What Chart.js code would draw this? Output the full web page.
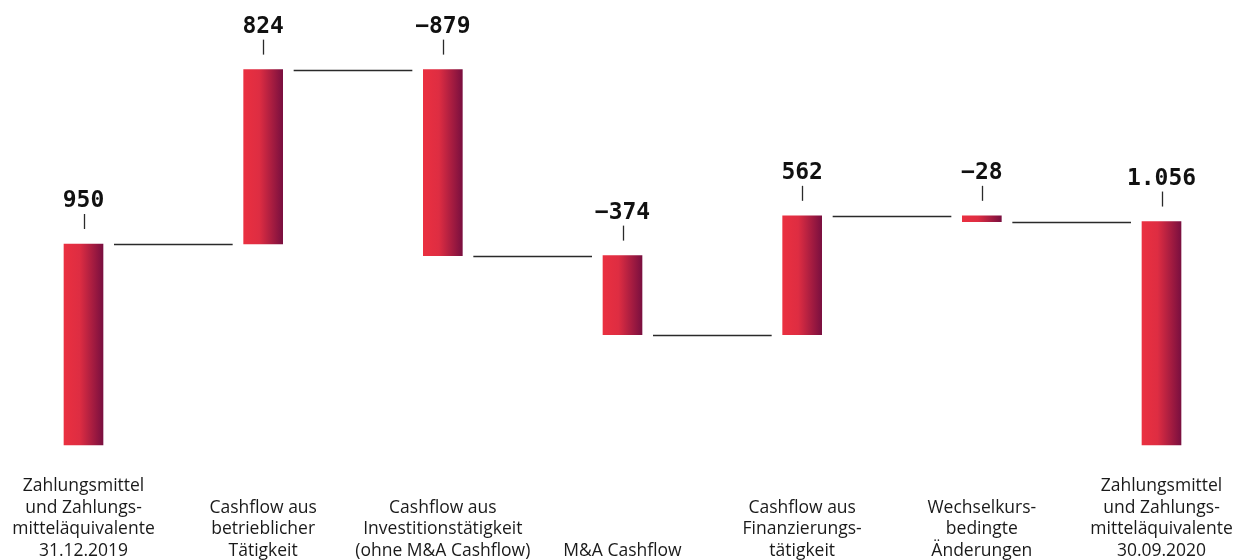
<!DOCTYPE html>
<html>
<head>
<meta charset="utf-8">
<script src="https://cdn.jsdelivr.net/npm/chart.js@4/dist/chart.umd.min.js"></script>
<style>
  html, body { margin: 0; padding: 0; background: #fff; }
  #wrap { width: 1236px; height: 560px; }
</style>
</head>
<body>
<div id="wrap"><canvas id="cashChart"></canvas></div>
<script>
const categories = [
  ['Zahlungsmittel', 'und Zahlungs-', 'mitteläquivalente', '31.12.2019'],
  ['Cashflow aus', 'betrieblicher', 'Tätigkeit'],
  ['Cashflow aus', 'Investitionstätigkeit', '(ohne M&A Cashflow)'],
  ['M&A Cashflow'],
  ['Cashflow aus', 'Finanzierungs-', 'tätigkeit'],
  ['Wechselkurs-', 'bedingte', 'Änderungen'],
  ['Zahlungsmittel', 'und Zahlungs-', 'mitteläquivalente', '30.09.2020']
];
const values = [950, 824, -879, -374, 562, -28, 1056];
const isTotal = [true, false, false, false, false, false, true];
const valueLabels = ['950', '824', '−879', '−374', '562', '−28', '1.056'];

// floating bars: [start, end] of every step
let running = 0;
const ranges = values.map((v, i) => {
  if (isTotal[i]) { running = v; return [0, v]; }
  const start = running;
  running += v;
  return [start, running];
});
const levels = ranges.map(r => r[1]);

// bottom-align the multi-line labels
const maxLines = Math.max(...categories.map(c => c.length));
const tickLabels = categories.map(c => Array(maxLines - c.length).fill('').concat(c));

const BAR_W = 39;

function barGradient(ctx) {
  const chart = ctx.chart;
  const x = chart.scales.x;
  if (!x || ctx.dataIndex === undefined) return '#e8303f';
  const cx = x.getPixelForValue(ctx.dataIndex);
  if (!Number.isFinite(cx)) return '#e8303f';
  const g = chart.ctx.createLinearGradient(cx - BAR_W / 2, 0, cx + BAR_W / 2, 0);
  g.addColorStop(0, '#ea3040');
  g.addColorStop(0.4, '#de2d42');
  g.addColorStop(1, '#7a0f3f');
  return g;
}

const waterfallDecor = {
  id: 'waterfallDecor',
  afterDatasetsDraw(chart) {
    const { ctx } = chart;
    const x = chart.scales.x, y = chart.scales.y;
    ctx.save();
    // connector lines
    ctx.strokeStyle = '#2a2a2a';
    ctx.lineWidth = 1.3;
    for (let i = 0; i < ranges.length - 1; i++) {
      const yy = Math.round(y.getPixelForValue(levels[i])) + 0.5;
      const x1 = x.getPixelForValue(i) + BAR_W / 2 + 11;
      const x2 = x.getPixelForValue(i + 1) - BAR_W / 2 - 11;
      ctx.beginPath();
      ctx.moveTo(x1, yy);
      ctx.lineTo(x2, yy);
      ctx.stroke();
    }
    // value labels with small tick
    ctx.fillStyle = '#111';
    ctx.font = 'bold 23px "DejaVu Sans Mono"';
    ctx.textAlign = 'center';
    ctx.textBaseline = 'middle';
    ranges.forEach((r, i) => {
      const top = y.getPixelForValue(Math.max(r[0], r[1]));
      const cx = x.getPixelForValue(i);
      ctx.beginPath();
      ctx.moveTo(Math.round(cx) + 0.5, top - 30);
      ctx.lineTo(Math.round(cx) + 0.5, top - 15);
      ctx.stroke();
      ctx.fillText(valueLabels[i], cx, top - 43);
    });
    ctx.restore();
  }
};

new Chart(document.getElementById('cashChart'), {
  type: 'bar',
  data: {
    labels: tickLabels,
    datasets: [{
      data: ranges,
      backgroundColor: barGradient,
      borderWidth: 0,
      barThickness: BAR_W,
      clip: false
    }]
  },
  options: {
    responsive: true,
    maintainAspectRatio: false,
    animation: false,
    layout: { padding: { left: 83.5, right: 74.5, top: 0, bottom: 0 } },
    plugins: { legend: { display: false }, tooltip: { enabled: false } },
    scales: {
      x: {
        offset: false,
        grid: { display: false, drawTicks: false },
        border: { display: false },
        ticks: {
          autoSkip: false,
          maxRotation: 0,
          padding: 30,
          color: '#1a1a1a',
          font: { family: 'Open Sans', size: 17.5, lineHeight: 1.24 }
        },
        afterFit(axis) {
          axis.height = 115;
          axis.paddingLeft = 0;
          axis.paddingRight = 0;
        }
      },
      y: {
        display: false,
        min: 0,
        max: 2103
      }
    }
  },
  plugins: [waterfallDecor]
});
</script>
</body>
</html>
